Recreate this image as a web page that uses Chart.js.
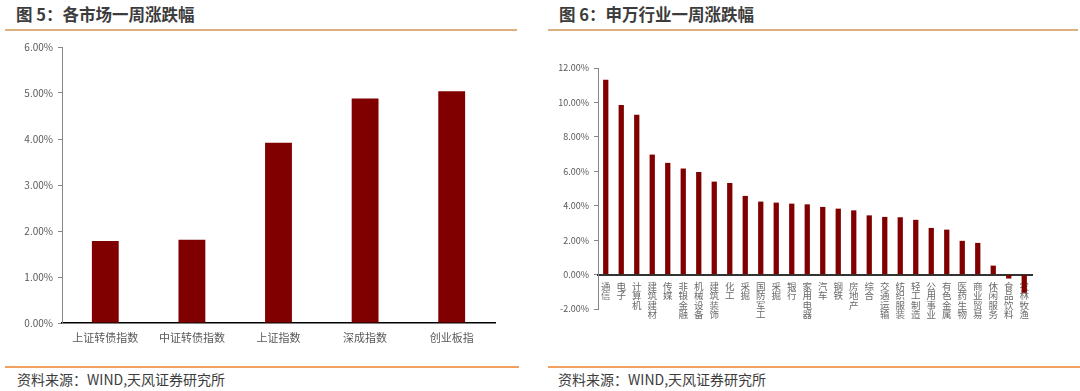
<!DOCTYPE html>
<html><head><meta charset="utf-8">
<script src="https://cdn.jsdelivr.net/npm/chart.js@4.4.1/dist/chart.umd.min.js"></script>
<style>
body{margin:0;width:1080px;height:391px;background:#fff;position:relative;overflow:hidden;font-family:"Noto Sans CJK SC",sans-serif;}
.title{position:absolute;top:3px;font-size:16.5px;font-weight:bold;color:#3c3c3c;line-height:22px;white-space:nowrap}
.tline{position:absolute;top:29px;height:2px;background:#dcb17f}
.bline{position:absolute;top:366px;height:2px;background:#f0a060}
.src{position:absolute;top:369px;font-size:14px;color:#3c3c3c;line-height:20px;white-space:nowrap}
canvas{position:absolute}
</style></head><body>
<div class="title" style="left:16px">图&nbsp;5：各市场一周涨跌幅</div>
<div class="tline" style="left:5px;width:512px"></div>
<div class="title" style="left:559px">图&nbsp;6：申万行业一周涨跌幅</div>
<div class="tline" style="left:548px;width:530px"></div>
<canvas id="c1" width="520" height="320" style="left:0;top:35px"></canvas>
<canvas id="c2" width="540" height="320" style="left:540px;top:35px"></canvas>
<div class="bline" style="left:5px;width:514px"></div>
<div class="bline" style="left:548px;width:532px"></div>
<div class="src" style="left:17px">资料来源：WIND,天风证券研究所</div>
<div class="src" style="left:558px">资料来源：WIND,天风证券研究所</div>
<script>
const marketLabels = ['上证转债指数','中证转债指数','上证指数','深成指数','创业板指'];
const marketValues = [1.78, 1.81, 3.92, 4.88, 5.04];
const marketAxis = {min: 0, max: 6, step: 1};

const industryLabels = ['通信','电子','计算机','建筑建材','传媒','非银金融','机械设备','建筑装饰','化工','采掘','国防军工','采掘','银行','家用电器','汽车','钢铁','房地产','综合','交通运输','纺织服装','轻工制造','公用事业','有色金属','医药生物','商业贸易','休闲服务','食品饮料','农林牧渔'];
const industryValues = [11.32, 9.85, 9.29, 6.97, 6.49, 6.16, 5.96, 5.40, 5.32, 4.57, 4.24, 4.18, 4.12, 4.08, 3.93, 3.83, 3.73, 3.44, 3.35, 3.33, 3.18, 2.71, 2.61, 1.96, 1.84, 0.52, -0.23, -1.06];
const industryAxis = {min: -2, max: 12, step: 2};

const FONT = '"Noto Sans CJK SC", "Noto Sans", sans-serif';
const BAR = '#800000';
const TXT = '#595959';
const pct = v => Number(v).toFixed(2) + '%';

new Chart(document.getElementById('c1'), {
  type: 'bar',
  data: {labels: marketLabels, datasets: [{data: marketValues, backgroundColor: BAR, barPercentage: 0.31, categoryPercentage: 1}]},
  options: {
    responsive: false, animation: false, devicePixelRatio: 1,
    layout: {padding: {top: 12, right: 25, bottom: 0, left: 0}},
    plugins: {legend: {display: false}, tooltip: {enabled: false}},
    scales: {
      x: {
        grid: {display: true, drawOnChartArea: false, drawTicks: false},
        border: {color: '#000', width: 1.5},
        ticks: {color: TXT, font: {family: FONT, size: 11}, padding: 8, maxRotation: 0, autoSkip: false},
        afterFit: s => { s.height = 32; }
      },
      y: {
        min: marketAxis.min, max: marketAxis.max,
        ticks: {stepSize: marketAxis.step, callback: pct, color: TXT, font: {family: FONT, size: 10}, padding: 5},
        grid: {drawOnChartArea: false, tickLength: 4, color: '#868686'},
        border: {color: '#868686', width: 1},
        afterFit: s => { s.width = 62; }
      }
    }
  }
});

new Chart(document.getElementById('c2'), {
  type: 'bar',
  data: {labels: industryLabels.map(l => l.split('')), datasets: [{data: industryValues, backgroundColor: BAR, barPercentage: 0.34, categoryPercentage: 1}]},
  options: {
    responsive: false, animation: false, devicePixelRatio: 1,
    layout: {padding: {top: 33, right: 48, bottom: 46, left: 0}},
    plugins: {legend: {display: false}, tooltip: {enabled: false}},
    scales: {
      x: {
        position: {y: 0},
        grid: {display: true, drawOnChartArea: false, drawTicks: false},
        border: {color: '#333', width: 2},
        ticks: {color: '#6a6a6a', font: {family: FONT, size: 9.5, lineHeight: 1.0}, padding: 7, maxRotation: 0, autoSkip: false}
      },
      y: {
        min: industryAxis.min, max: industryAxis.max,
        ticks: {stepSize: industryAxis.step, callback: pct, color: TXT, font: {family: FONT, size: 9}, padding: 5},
        grid: {drawOnChartArea: false, tickLength: 4, color: '#868686'},
        border: {color: '#868686', width: 1},
        afterFit: s => { s.width = 58; }
      }
    }
  }
});
</script>
</body></html>
